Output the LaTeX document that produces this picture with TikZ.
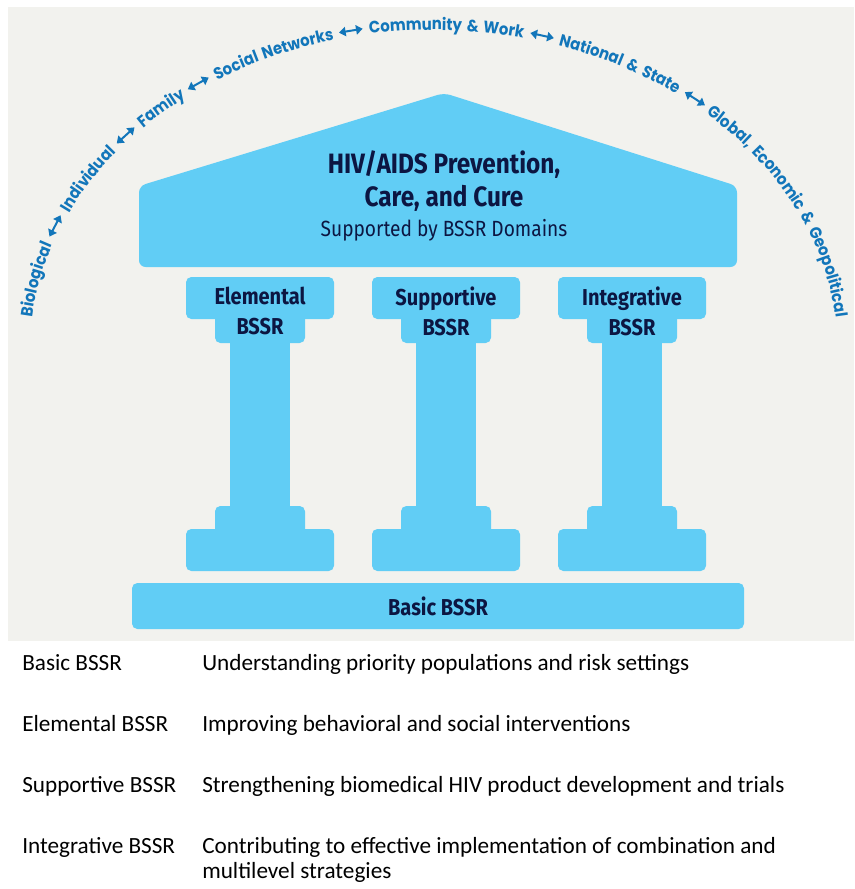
\documentclass[tikz,border=0pt]{standalone}
\usepackage{fontspec}
\usepackage{tikz}
\usetikzlibrary{decorations.text,arrows.meta}

\setmainfont{Carlito}
\newfontfamily\arcfont{Poppins}[FakeStretch=0.9]
\newfontfamily\headfont{Fira Sans}[FakeStretch=0.87]

\definecolor{panelgray}{RGB}{242,242,238}
\definecolor{pillarblue}{RGB}{97,205,245}
\definecolor{navy}{RGB}{12,22,66}
\definecolor{arcblue}{RGB}{18,118,186}

\newcommand{\arcstyle}{\arcfont\bfseries\fontsize{12.4}{15}\selectfont}
\newcommand{\arrowmark}{\pgfinterruptpicture\tikz[baseline=-4.5pt, x=1pt, y=1pt]\draw[arcblue, line width=1.5pt, decorate=false, {Triangle[length=5pt,width=7pt]}-{Triangle[length=5pt,width=7pt]}] (0,0) -- (18,0);\endpgfinterruptpicture}

\begin{document}
\begin{tikzpicture}[x=0.75pt, y=-0.75pt,
    block/.style={fill=pillarblue, rounded corners=4pt},
    pillarlabel/.style={font=\headfont\bfseries\fontsize{17.25}{22.5}\selectfont, text=navy, align=center, inner sep=0pt},
    rooftext/.style={font=\headfont\bfseries\fontsize{21}{25}\selectfont, text=navy, anchor=base, inner sep=0pt},
    tablename/.style={font=\fontsize{17.4}{18.75}\selectfont, anchor=base west, inner sep=0pt},
    tabledesc/.style={tablename, align=left}]
    \useasboundingbox (0,0) rectangle (854,889);

    % background panel
    \fill[panelgray] (8,7) rectangle (854,641);

    % levels along the arc
    \path[decorate, decoration={text along path, text color=arcblue,
        text align={fit to path stretching spaces},
        text={|\arcstyle|Biological {\arrowmark} Individual {\arrowmark} Family {\arrowmark} Social Networks {\arrowmark} Community {\&} Work {\arrowmark} National {\&} State {\arrowmark} Global, Economic {\&} Geopolitical}}]
        (32.21,317.45) arc[start angle=-174, end angle=-6, x radius=404, y radius=321];

    % roof
    \fill[pillarblue, rounded corners=5pt] (139,267) -- (139,186) -- (444,93) -- (737,186) -- (737,267) -- cycle;
    \node[rooftext] (title) at (444,173) {HIV/AIDS Prevention,};
    \node[rooftext] (titlesecond) at (444,206) {Care, and Cure};
    \node[rooftext, font=\headfont\fontsize{16.5}{20}\selectfont] (subtitle) at (444,236) {Supported by BSSR Domains};

    % pillars
    \foreach \cx/\nm/\lbl in {260/elemental/Elemental, 446/supportive/Supportive, 632/integrative/Integrative} {
        \fill[block] (\cx-74,277) rectangle (\cx+74,319);
        \fill[block] (\cx-45,300) rectangle (\cx+45,343);
        \fill[pillarblue] (\cx-30,330) rectangle (\cx+30,520);
        \fill[block] (\cx-45,506) rectangle (\cx+45,545);
        \fill[block] (\cx-74,529) rectangle (\cx+74,571);
        \node[pillarlabel] (\nm) at (\cx,311) {\lbl\\BSSR};
    }

    % base
    \fill[block] (132,583) rectangle (744,629);
    \node[pillarlabel] (basic) at (438,606) {Basic BSSR};

    % legend
    \node[tablename] (basicname) at (22,670) {Basic BSSR};
    \node[tabledesc] (basicdesc) at (202,670) {Understanding priority populations and risk settings};
    \node[tablename] (elementalname) at (22,731) {Elemental BSSR};
    \node[tabledesc] (elementaldesc) at (202,731) {Improving behavioral and social interventions};
    \node[tablename] (supportivename) at (22,792) {Supportive BSSR};
    \node[tabledesc] (supportivedesc) at (202,792) {Strengthening biomedical HIV product development and trials};
    \node[tablename] (integrativename) at (22,853) {Integrative BSSR};
    \node[tabledesc] (integrativedesc) at (202,878) {Contributing to effective implementation of combination and\\multilevel strategies};
\end{tikzpicture}
\end{document}
